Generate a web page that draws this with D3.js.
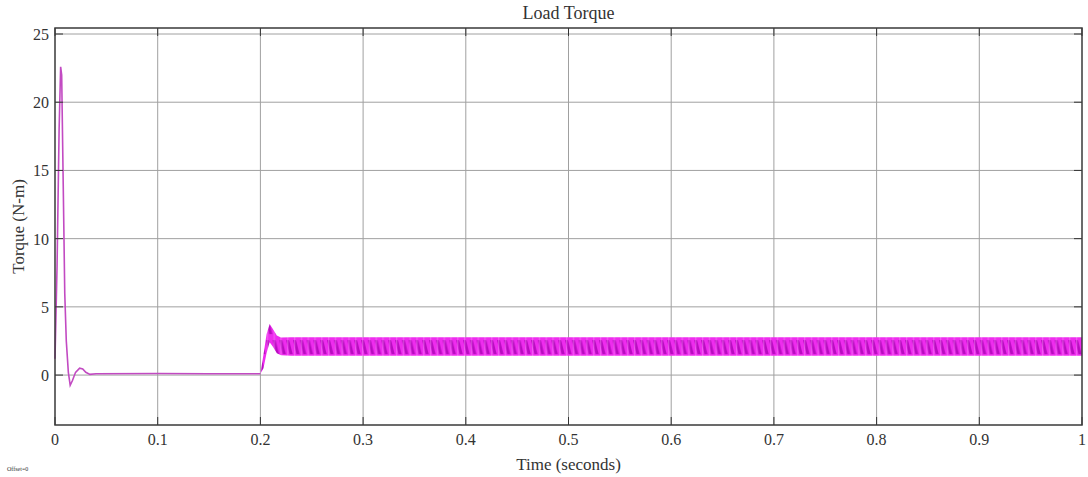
<!DOCTYPE html>
<html>
<head>
<meta charset="utf-8">
<script src="https://cdn.jsdelivr.net/npm/d3@7"></script>
<style>
  body { margin: 0; background: #fff; }
  text { font-family: "Liberation Serif", "Times New Roman", serif; fill: #333; }
</style>
</head>
<body>
<script>
//Width and height
var w = 1088;
var h = 477;
var margin = {left: 55, right: 6, top: 28, bottom: 52};

//Tick values
var xTicks = [0, 0.1, 0.2, 0.3, 0.4, 0.5, 0.6, 0.7, 0.8, 0.9, 1];
var yTicks = [0, 5, 10, 15, 20, 25];

//Start-up transient and idle part of the trace (time s, torque N-m)
var startTime  = [0, 0.002, 0.004, 0.0055, 0.0065, 0.008, 0.0095, 0.011, 0.013, 0.0148, 0.017, 0.02, 0.024, 0.027, 0.03, 0.034, 0.04, 0.1, 0.15, 0.2];
var startTorque = [1.2, 8, 18, 22.6, 22, 14, 6, 2.5, 0.2, -0.75, -0.4, 0.2, 0.5, 0.45, 0.2, 0.05, 0.1, 0.12, 0.1, 0.1];

//Loaded part: ripple band envelope
var bandTime  = [0.2, 0.203, 0.206, 0.209, 0.212, 0.216, 0.22, 0.23, 1.0];
var bandUpper = [0.1, 1.5, 3.0, 3.75, 3.4, 2.9, 2.75, 2.78, 2.78];
var bandLower = [0.1, 0.5, 1.6, 2.4, 2.1, 1.6, 1.45, 1.42, 1.42];

var xScale = d3.scaleLinear()
                .domain([0, 1])
                .range([margin.left, w - margin.right]);

var yScale = d3.scaleLinear()
                .domain([-3.66, 25.44])
                .range([h - margin.bottom, margin.top]);

//Create SVG element
var svg = d3.select("body")
            .append("svg")
            .attr("width", w)
            .attr("height", h);

//Ripple texture
var defs = svg.append("defs");
var pat = defs.append("pattern")
    .attr("id", "ripple")
    .attr("patternUnits", "userSpaceOnUse")
    .attr("x", xScale(0))
    .attr("y", yScale(2.78))
    .attr("width", 6.8)
    .attr("height", 20);
pat.append("rect").attr("width", 6.8).attr("height", 20).attr("fill", "#ee2cee");
pat.append("polygon").attr("points", "0,3 3,3 6.5,17 3.5,17").attr("fill", "#b80cc0");
pat.append("line").attr("x1", 1.7).attr("x2", 1.7).attr("y1", 0).attr("y2", 20)
    .attr("stroke", "#f590f5").attr("stroke-width", 0.6);

var x0 = xScale.range()[0], x1 = xScale.range()[1];
var y0 = yScale.range()[0], y1 = yScale.range()[1];

//Grid
svg.selectAll("line.vgrid")
   .data(xTicks.slice(1, -1))
   .enter()
   .append("line")
   .attr("class", "vgrid")
   .attr("x1", function(d) { return xScale(d); })
   .attr("x2", function(d) { return xScale(d); })
   .attr("y1", y1)
   .attr("y2", y0)
   .attr("stroke", "#a0a0a0")
   .attr("stroke-width", 1);

svg.selectAll("line.hgrid")
   .data(yTicks)
   .enter()
   .append("line")
   .attr("class", "hgrid")
   .attr("x1", x0)
   .attr("x2", x1)
   .attr("y1", function(d) { return yScale(d); })
   .attr("y2", function(d) { return yScale(d); })
   .attr("stroke", "#a0a0a0")
   .attr("stroke-width", 1);

//Ripple band
var band = d3.range(bandTime.length).map(function(i) {
    return {t: bandTime[i], lo: bandLower[i], hi: bandUpper[i]};
});
svg.append("path")
   .datum(band)
   .attr("d", d3.area()
        .x(function(d) { return xScale(d.t); })
        .y0(function(d) { return yScale(d.lo); })
        .y1(function(d) { return yScale(d.hi); }))
   .attr("fill", "url(#ripple)");

//Start-up trace
var trace = d3.range(startTime.length).map(function(i) {
    return [startTime[i], startTorque[i]];
});
svg.append("path")
   .datum(trace)
   .attr("d", d3.line()
        .x(function(d) { return xScale(d[0]); })
        .y(function(d) { return yScale(d[1]); }))
   .attr("fill", "none")
   .attr("stroke", "#c24ac2")
   .attr("stroke-width", 1.6);

//Inner tick marks (left, right, top, bottom)
var tl = 8;
svg.selectAll("line.ytick")
   .data(yTicks)
   .enter()
   .append("line")
   .attr("class", "ytick")
   .attr("x1", x0).attr("x2", x0 + tl)
   .attr("y1", function(d) { return yScale(d); })
   .attr("y2", function(d) { return yScale(d); })
   .attr("stroke", "#333");
svg.selectAll("line.ytick2")
   .data(yTicks)
   .enter()
   .append("line")
   .attr("class", "ytick2")
   .attr("x1", x1 - tl).attr("x2", x1)
   .attr("y1", function(d) { return yScale(d); })
   .attr("y2", function(d) { return yScale(d); })
   .attr("stroke", "#333");
svg.selectAll("line.xtick")
   .data(xTicks)
   .enter()
   .append("line")
   .attr("class", "xtick")
   .attr("x1", function(d) { return xScale(d); })
   .attr("x2", function(d) { return xScale(d); })
   .attr("y1", y0 - tl).attr("y2", y0)
   .attr("stroke", "#333");
svg.selectAll("line.xtick2")
   .data(xTicks)
   .enter()
   .append("line")
   .attr("class", "xtick2")
   .attr("x1", function(d) { return xScale(d); })
   .attr("x2", function(d) { return xScale(d); })
   .attr("y1", y1).attr("y2", y1 + tl)
   .attr("stroke", "#333");

//Frame
svg.append("rect")
   .attr("x", x0).attr("y", y1)
   .attr("width", x1 - x0).attr("height", y0 - y1)
   .attr("fill", "none")
   .attr("stroke", "#3a3a3a")
   .attr("stroke-width", 1.5);

//Tick labels
svg.selectAll("text.xlab")
   .data(xTicks)
   .enter()
   .append("text")
   .attr("class", "xlab")
   .attr("x", function(d) { return xScale(d); })
   .attr("y", y0 + 20)
   .attr("text-anchor", "middle")
   .attr("font-size", "16px")
   .text(function(d) { return d; });

svg.selectAll("text.ylab")
   .data(yTicks)
   .enter()
   .append("text")
   .attr("class", "ylab")
   .attr("x", x0 - 6)
   .attr("y", function(d) { return yScale(d) + 6; })
   .attr("text-anchor", "end")
   .attr("font-size", "16px")
   .text(function(d) { return d; });

//Titles
svg.append("text")
   .attr("x", (x0 + x1) / 2)
   .attr("y", 19)
   .attr("text-anchor", "middle")
   .attr("font-size", "18px")
   .text("Load Torque");

svg.append("text")
   .attr("x", (x0 + x1) / 2)
   .attr("y", 470)
   .attr("text-anchor", "middle")
   .attr("font-size", "17px")
   .text("Time (seconds)");

svg.append("text")
   .attr("transform", "translate(24," + ((y0 + y1) / 2) + ") rotate(-90)")
   .attr("text-anchor", "middle")
   .attr("font-size", "17px")
   .text("Torque (N-m)");

svg.append("text")
   .attr("x", 7)
   .attr("y", 471)
   .attr("font-family", "Liberation Sans, sans-serif")
   .attr("font-size", "6px")
   .text("Offset=0");
</script>
</body>
</html>
